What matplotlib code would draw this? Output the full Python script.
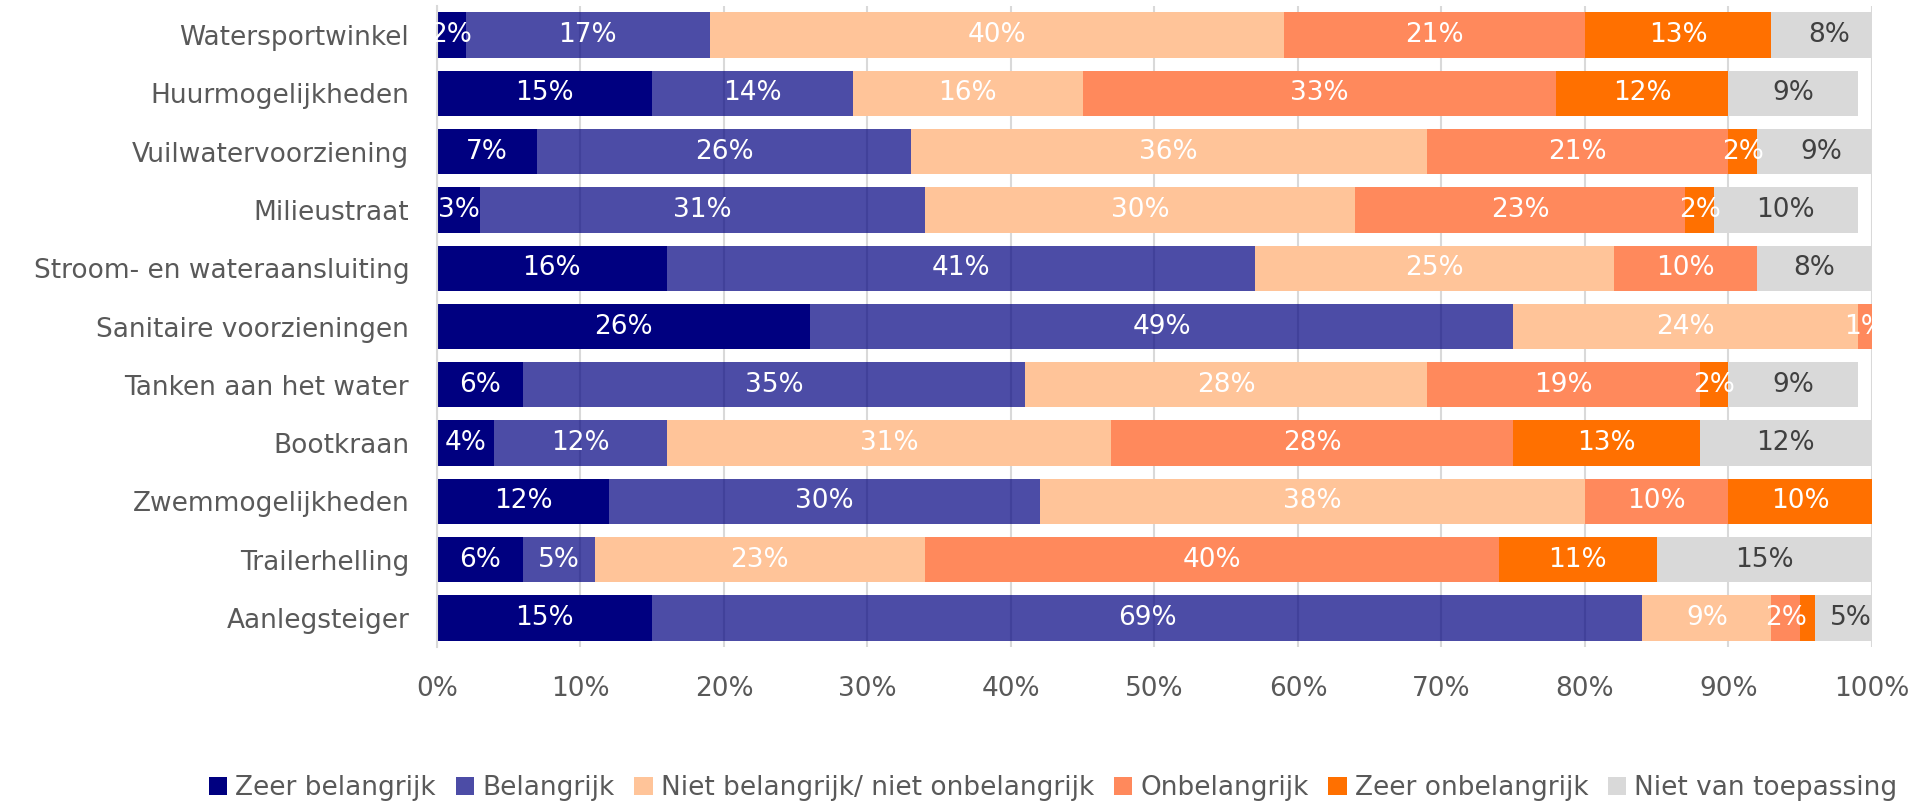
import numpy as np
import matplotlib.pyplot as plt
from matplotlib.transforms import Bbox, TransformedBbox

categories = ["Watersportwinkel", "Huurmogelijkheden", "Vuilwatervoorziening",
              "Milieustraat", "Stroom- en wateraansluiting", "Sanitaire voorzieningen",
              "Tanken aan het water", "Bootkraan", "Zwemmogelijkheden",
              "Trailerhelling", "Aanlegsteiger"]

series = ["Zeer belangrijk", "Belangrijk", "Niet belangrijk/ niet onbelangrijk",
          "Onbelangrijk", "Zeer onbelangrijk", "Niet van toepassing"]

zeer_belangrijk   = [2, 15, 7, 3, 16, 26, 6, 4, 12, 6, 15]
belangrijk        = [17, 14, 26, 31, 41, 49, 35, 12, 30, 5, 69]
neutraal          = [40, 16, 36, 30, 25, 24, 28, 31, 38, 23, 9]
onbelangrijk      = [21, 33, 21, 23, 10, 1, 19, 28, 10, 40, 2]
zeer_onbelangrijk = [13, 12, 2, 2, 0, 0, 2, 13, 10, 11, 1]
niet_toepassing   = [8, 9, 9, 10, 8, 0, 9, 12, 0, 15, 5]

# segments that carry no data label
unlabeled = {(4, 10)}

colors = ["#000080", "#000080", "#ffc499", "#ff895c", "#ff7000", "#d9d9d9"]
alphas = [1.0, 0.7, 1.0, 1.0, 1.0, 1.0]
label_colors = ["white", "white", "white", "white", "white", "#404040"]

data = [zeer_belangrijk, belangrijk, neutraal, onbelangrijk, zeer_onbelangrijk, niet_toepassing]

plt.rcParams['font.family'] = ['DejaVu Sans']
fig = plt.figure(figsize=(19.15, 8.05), dpi=100)
ax = fig.add_axes([0.2282, 0.1963, 0.7493, 0.7962])

# labels may spill past the left edge, but get cut at 100%
clip_box = TransformedBbox(Bbox([[-0.2, -0.1], [1.0, 1.1]]), ax.transAxes)

y = np.arange(len(categories))
left = np.zeros(len(categories))
fs = 19
for si, vals in enumerate(data):
    vals = np.array(vals, dtype=float)
    ax.barh(y, vals, left=left, height=0.78, color=colors[si], alpha=alphas[si],
            label=series[si], linewidth=0)
    for ci, v in enumerate(vals):
        if v <= 0 or (si, ci) in unlabeled:
            continue
        t = ax.text(left[ci] + v / 2, y[ci], f"{int(v)}%", ha="center", va="center",
                    color=label_colors[si], fontsize=fs, zorder=5)
        t.set_clip_box(clip_box)
        t.set_clip_on(True)
    left += vals

ax.set_xlim(0, 100)
ax.set_ylim(len(categories) - 0.5, -0.5)
ax.set_yticks(y)
ax.set_yticklabels(categories)
ax.set_xticks(np.arange(0, 101, 10))
ax.set_xticklabels([f"{t}%" for t in range(0, 101, 10)])
ax.tick_params(axis="both", length=0, labelsize=fs, labelcolor="#595959")
ax.tick_params(axis="x", pad=21)
ax.tick_params(axis="y", pad=20)

ax.set_axisbelow(True)
ax.grid(axis="x", color="#d9d9d9", linewidth=1.5)
for side in ["top", "right", "bottom"]:
    ax.spines[side].set_visible(False)
ax.spines["left"].set_color("#d9d9d9")
ax.spines["left"].set_linewidth(1.5)

leg = fig.legend(loc="center", bbox_to_anchor=(0.55, 1 - 788 / 805), ncol=6,
                 frameon=False, fontsize=fs, handlelength=0.7, handleheight=0.7,
                 handletextpad=0.3, columnspacing=0.75)
for t in leg.get_texts():
    t.set_color("#595959")

fig.savefig("out.png", dpi=100)
